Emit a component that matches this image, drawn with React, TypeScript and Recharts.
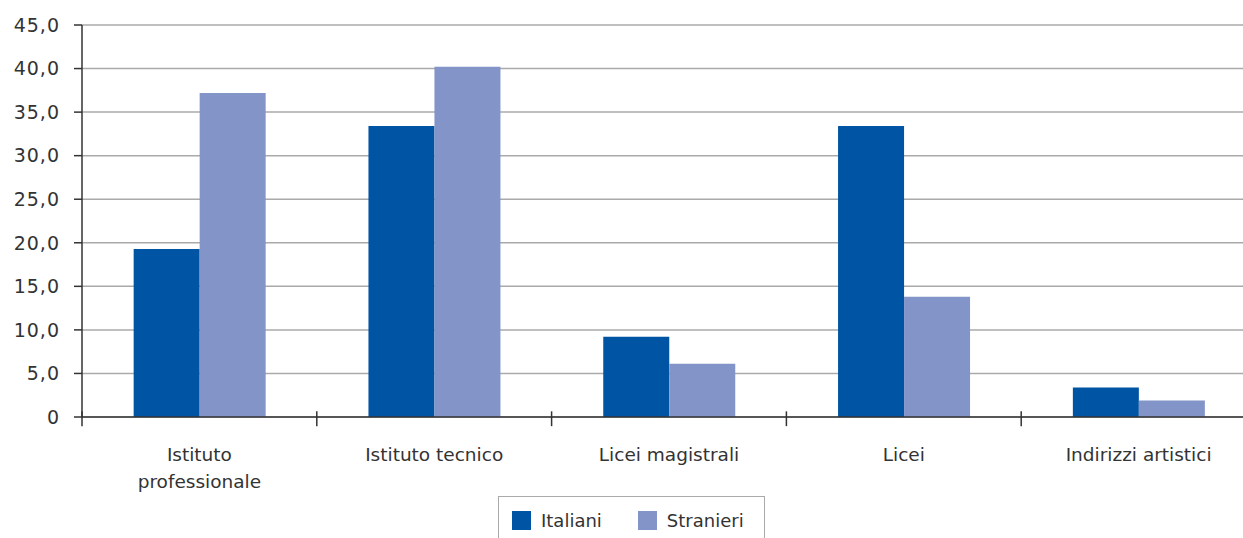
import {
  Bar,
  BarChart,
  CartesianGrid,
  Legend,
  ReferenceLine,
  XAxis,
  YAxis,
} from "recharts";

const categories = [
  "Istituto\nprofessionale",
  "Istituto tecnico",
  "Licei magistrali",
  "Licei",
  "Indirizzi artistici",
];
const italiani = [19.3, 33.4, 9.2, 33.4, 3.4];
const stranieri = [37.2, 40.2, 6.1, 13.8, 1.9];
const yTicks = [0, 5, 10, 15, 20, 25, 30, 35, 40, 45];

const FONT = "'DejaVu Sans', sans-serif";
const TEXT = "#333333";
const BLUE = "#0054a4";
const LILAC = "#8294c8";

const data = categories.map((name, i) => ({
  name,
  Italiani: italiani[i],
  Stranieri: stranieri[i],
}));

function fmt(v: number): string {
  return v === 0 ? "0" : v.toFixed(1).replace(".", ",");
}

function CategoryTick(props: any) {
  const { x, y, payload } = props;
  const lines = String(payload.value).split("\n");
  return (
    <text
      x={x}
      y={y + 36}
      textAnchor="middle"
      fill={TEXT}
      fontFamily={FONT}
      fontSize={18.5}
    >
      {lines.map((l, i) => (
        <tspan key={i} x={x} dy={i === 0 ? 0 : 27}>
          {l}
        </tspan>
      ))}
    </text>
  );
}

function LegendBox() {
  const items = [
    { label: "Italiani", color: BLUE },
    { label: "Stranieri", color: LILAC },
  ];
  return (
    <div
      style={{
        width: 267,
        height: 60,
        boxSizing: "border-box",
        border: "1.5px solid #aaaaaa",
        background: "#fff",
        display: "flex",
        alignItems: "flex-start",
        paddingTop: 13,
        paddingLeft: 13,
        fontFamily: FONT,
        fontSize: 18,
        color: TEXT,
      }}
    >
      {items.map((it, i) => (
        <div
          key={it.label}
          style={{
            display: "flex",
            alignItems: "center",
            marginRight: i === 0 ? 36 : 0,
          }}
        >
          <span
            style={{
              display: "inline-block",
              width: 19,
              height: 19,
              background: it.color,
              marginRight: 10,
            }}
          />
          <span>{it.label}</span>
        </div>
      ))}
    </div>
  );
}

export default function App() {
  return (
    <div
      style={{
        position: "absolute",
        left: 0,
        top: 0,
        width: 1243,
        height: 538,
        overflow: "hidden",
        background: "#fff",
      }}
    >
      <BarChart
        width={1256}
        height={538}
        data={data}
        margin={{ top: 25, right: 0, bottom: 120, left: 0 }}
        barCategoryGap="22%"
        barGap={0}
      >
        <CartesianGrid
          vertical={false}
          stroke="#aaaaaa"
          strokeWidth={1.5}
        />
        <XAxis
          dataKey="name"
          height={1}
          axisLine={{ stroke: TEXT, strokeWidth: 1.5 }}
          tickLine={false}
          interval={0}
          tick={<CategoryTick />}
        />
        <YAxis
          width={82}
          domain={[0, 45]}
          ticks={yTicks}
          interval={0}
          tickFormatter={fmt}
          tickSize={8}
          tickMargin={14}
          axisLine={{ stroke: TEXT, strokeWidth: 1.5 }}
          tickLine={{ stroke: TEXT, strokeWidth: 1.5 }}
          tick={{ fill: TEXT, fontFamily: FONT, fontSize: 19, letterSpacing: 1 }}
        />
        <Legend
          layout="horizontal"
          verticalAlign="middle"
          content={() => <LegendBox />}
          wrapperStyle={{ left: 498, top: 496, width: 267, height: 60 }}
        />
        <Bar dataKey="Italiani" fill={BLUE} isAnimationActive={false} />
        <Bar dataKey="Stranieri" fill={LILAC} isAnimationActive={false} />
        {categories.map((c) => (
          <ReferenceLine
            key={c}
            position="start"
            ifOverflow="visible"
            segment={[
              { x: c, y: -1.05 },
              { x: c, y: 0.65 },
            ]}
            stroke={TEXT}
            strokeWidth={1.5}
          />
        ))}
      </BarChart>
    </div>
  );
}
